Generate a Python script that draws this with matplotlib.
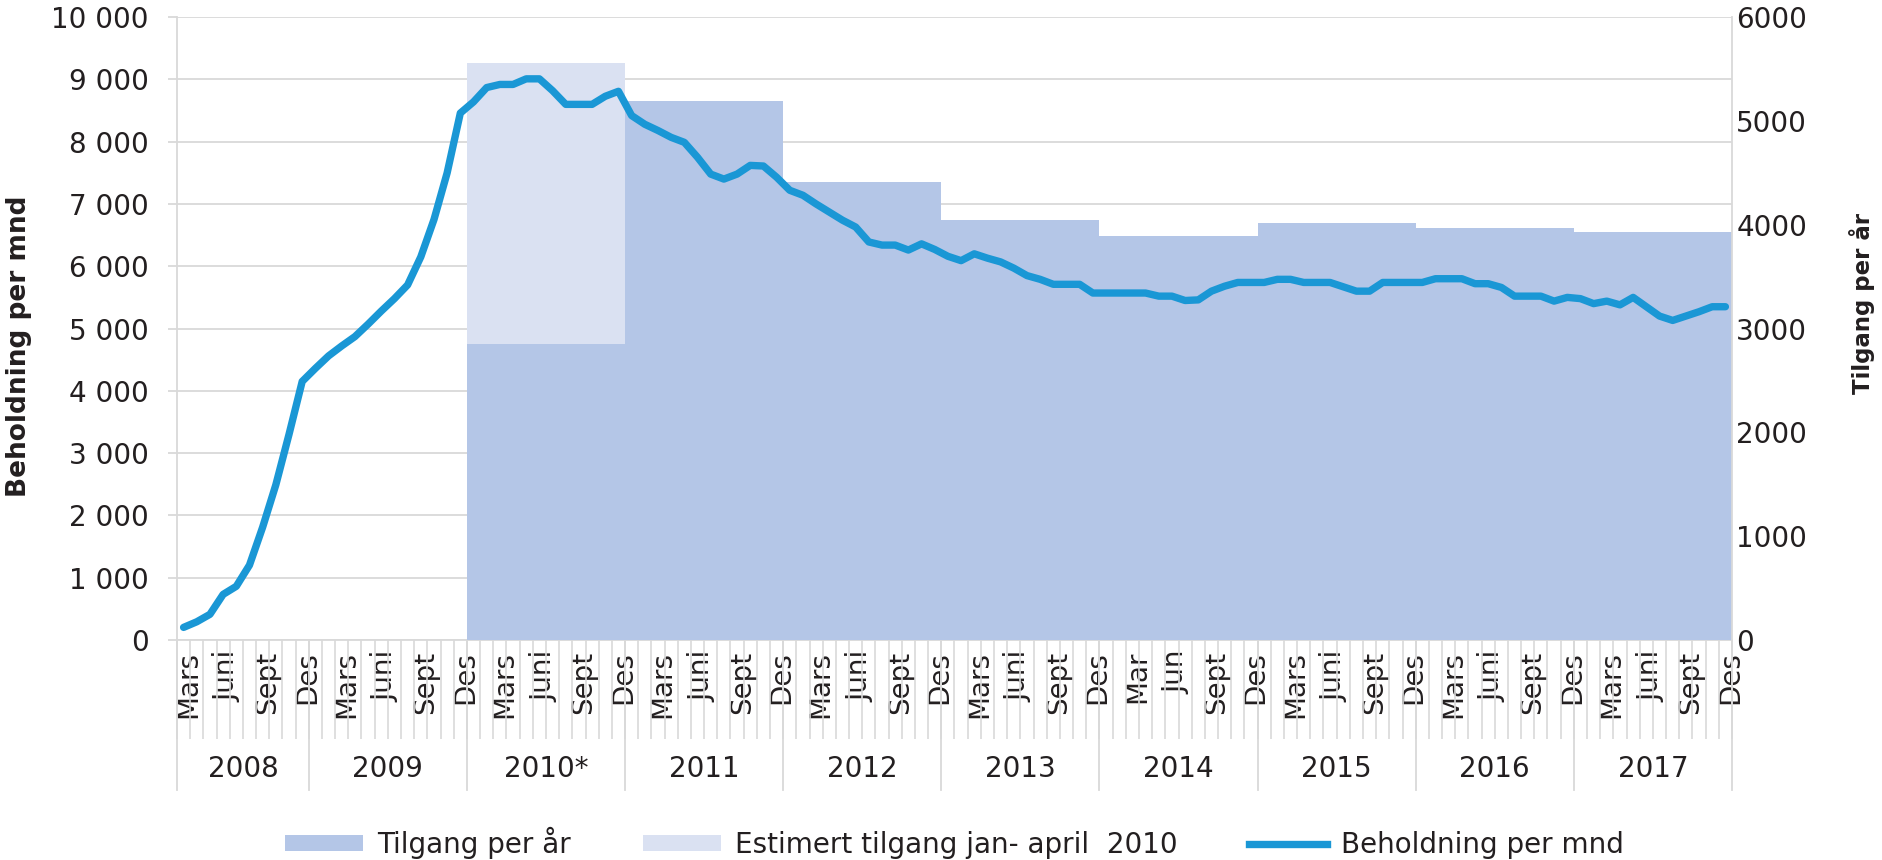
import numpy as np
import matplotlib.pyplot as plt
from matplotlib.patches import Patch
from matplotlib.lines import Line2D
from matplotlib.ticker import FuncFormatter

# ── data ──────────────────────────────────────────────────────────────────────
start_year, start_month = 2008, 3          # first category: Mars 2008

# Beholdning per mnd (left axis), Mar 2008 .. Des 2017
beholdning = [
    200, 290, 410, 730, 860, 1200, 1810, 2490, 3300, 4150,               # 2008
    4360, 4560, 4720, 4870, 5070, 5280, 5480, 5700, 6150, 6750, 7500, 8460,  # 2009
    8640, 8870, 8920, 8920, 9010, 9010, 8820, 8600, 8600, 8600, 8730, 8810,  # 2010
    8420, 8280, 8180, 8070, 7990, 7750, 7480, 7400, 7480, 7620, 7610, 7430,  # 2011
    7220, 7140, 7000, 6870, 6740, 6630, 6390, 6340, 6340, 6260, 6360, 6270,  # 2012
    6160, 6090, 6200, 6130, 6070, 5970, 5850, 5790, 5710, 5710, 5710, 5570,  # 2013
    5570, 5570, 5570, 5570, 5520, 5520, 5450, 5460, 5600, 5680, 5740, 5740,  # 2014
    5740, 5790, 5790, 5740, 5740, 5740, 5670, 5600, 5600, 5740, 5740, 5740,  # 2015
    5740, 5800, 5800, 5800, 5720, 5720, 5660, 5520, 5520, 5520, 5440, 5500,  # 2016
    5480, 5400, 5440, 5380, 5500, 5350, 5200, 5130, 5200, 5270, 5350, 5350,  # 2017
]

# Tilgang per år (right axis)
bar_years = [2010, 2011, 2012, 2013, 2014, 2015, 2016, 2017]
tilgang = [2850, 5190, 4410, 4050, 3890, 4020, 3970, 3930]
estimert_2010 = 2710      # estimert tilgang jan-april 2010, stacked on 2010

year_labels = {2008: '2008', 2009: '2009', 2010: '2010*', 2011: '2011', 2012: '2012',
               2013: '2013', 2014: '2014', 2015: '2015', 2016: '2016', 2017: '2017'}
month_names = {3: 'Mars', 6: 'Juni', 9: 'Sept', 12: 'Des'}
month_names_2014 = {3: 'Mar', 6: 'Jun', 9: 'Sept', 12: 'Des'}

# ── styling ──────────────────────────────────────────────────────────────────
c_line = '#1a97d5'
c_bar = '#b4c6e7'
c_est = '#dae1f2'
c_grid = '#d9d9d9'
c_text = '#231f20'
fs = 20

plt.rcParams['font.family'] = ['DejaVu Sans']
plt.rcParams['text.color'] = c_text

n = len(beholdning)
months = [(start_year + (start_month - 1 + i) // 12, (start_month - 1 + i) % 12 + 1) for i in range(n)]
x = np.arange(n)

fig = plt.figure(figsize=(18.83, 8.6), dpi=100)
ax = fig.add_axes([0.094, 0.256, 0.8258, 0.724])
ax2 = ax.twinx()
ax3 = ax.twinx()

# bars (right axis)
first_idx = {}
for i, (yr, mo) in enumerate(months):
    first_idx.setdefault(yr, i)
bar_left = [first_idx[yr] - 0.5 for yr in bar_years]
ax2.bar(bar_left, tilgang, width=12, align='edge', color=c_bar, lw=0)
ax2.bar(bar_left[0], estimert_2010, bottom=tilgang[0], width=12, align='edge', color=c_est, lw=0)
ax2.set_ylim(0, 6000)
ax2.set_yticks(np.arange(0, 6001, 1000))
ax2.tick_params(axis='y', length=0, pad=3, labelsize=fs, labelcolor=c_text)
for s in ['top', 'left', 'bottom']:
    ax2.spines[s].set_visible(False)
ax2.spines['right'].set_color(c_grid)
ax2.spines['right'].set_linewidth(1.3)

# line (left axis scale)
ax3.plot(x, beholdning, color=c_line, lw=5.3, solid_joinstyle='round', solid_capstyle='round')
ax3.set_ylim(0, 10000)
ax3.set_axis_off()

# left axis
ax.set_xlim(-0.5, n - 0.5)
ax.set_ylim(0, 10000)
ax.set_yticks(np.arange(0, 10001, 1000))
ax.yaxis.set_major_formatter(FuncFormatter(lambda v, p: f'{int(v):,}'.replace(',', ' ')))
ax.yaxis.grid(True, color=c_grid, lw=1.3)
ax.set_axisbelow(True)
ax.tick_params(axis='y', length=6.5, width=1.3, color=c_grid, pad=14, labelsize=fs, labelcolor=c_text)
for s in ['top', 'right']:
    ax.spines[s].set_visible(False)
for s in ['left', 'bottom']:
    ax.spines[s].set_color(c_grid)
    ax.spines[s].set_linewidth(1.3)

# month labels
pos, labs = [], []
for i, (yr, mo) in enumerate(months):
    names = month_names_2014 if yr == 2014 else month_names
    if mo in names:
        pos.append(i + 0.35)
        labs.append(names[mo])
ax.set_xticks(pos)
ax.set_xticklabels(labs, rotation=90, va='top', ha='center')
ax.set_xticks(np.arange(-0.5, n), minor=True)
ax.tick_params(axis='x', which='major', length=0, pad=8, labelsize=fs, labelcolor=c_text)
ax.tick_params(axis='x', which='minor', length=71, width=1.2, color=c_grid)

# year groups
tr = ax.get_xaxis_transform()
bounds = [-0.5] + [i - 0.5 for i, (yr, mo) in enumerate(months) if mo == 1] + [n - 0.5]
for b in bounds:
    ax.plot([b, b], [0, -0.241], transform=tr, color=c_grid, lw=1.3, clip_on=False)
for yr, lab in year_labels.items():
    idx = [i for i, (y_, m_) in enumerate(months) if y_ == yr]
    ax.text(np.mean(idx), -0.207, lab, transform=tr, ha='center', va='center', fontsize=fs)

# axis titles
fig.text(19 / 1883, 1 - 346 / 860, 'Beholdning per mnd', rotation=90, ha='center', va='center',
         fontsize=19, fontweight='bold')
fig.text(1862 / 1883, 1 - 303 / 860, 'Tilgang per år', rotation=90, ha='center', va='center',
         fontsize=16.5, fontweight='bold')

# legend
handles = [Patch(facecolor=c_bar, lw=0), Patch(facecolor=c_est, lw=0),
           Line2D([0], [0], color=c_line, lw=5.3)]
labels = ['Tilgang per år', 'Estimert tilgang jan- april  2010', 'Beholdning per mnd']
fig.legend(handles, labels, loc='center', bbox_to_anchor=(0.507, 0.02), ncol=3, frameon=False,
           fontsize=fs, handlelength=2.8, handleheight=0.55, handletextpad=0.5, columnspacing=2.6)

fig.savefig('out.png', dpi=100)
